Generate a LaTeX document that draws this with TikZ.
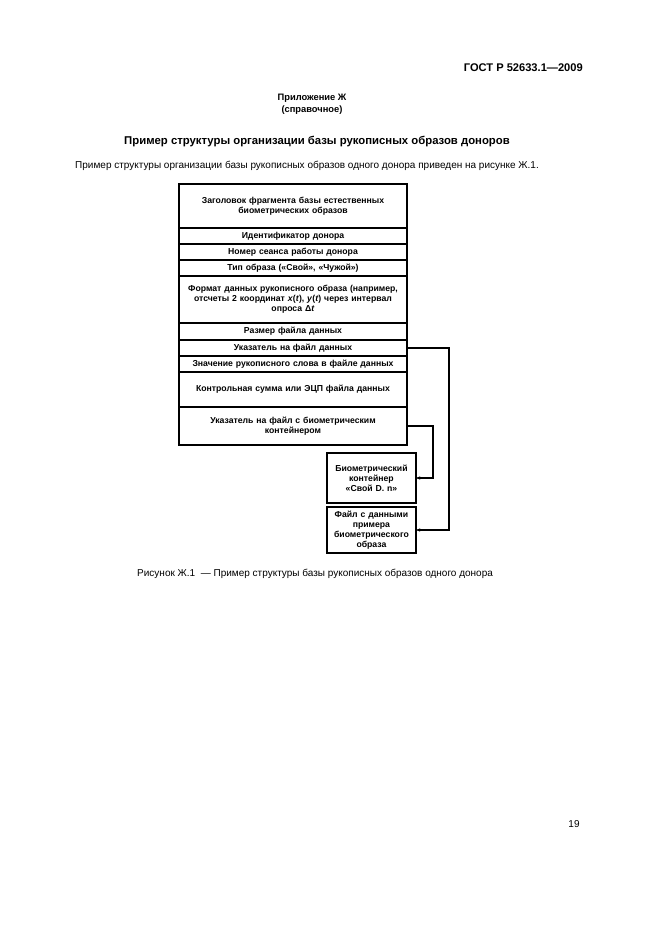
\documentclass[tikz,border=0pt]{standalone}
\usepackage{fontspec}
\setmainfont{Liberation Sans}
\usepackage{tikz}
\usetikzlibrary{positioning,arrows.meta}

\begin{document}
\begin{tikzpicture}[x = 0.9pt, y = -0.9pt,
        Row/.style = {rectangle, draw = black, line width = 1.1pt, outer sep = 0pt, minimum width = 205.2pt, text width = 200pt, align = center, inner sep = 1pt, font = \fontsize{7.8}{9}\selectfont\bfseries},
        Box/.style = {Row, minimum width = 80pt, text width = 78pt},
        Link/.style = {line width = 1.1pt, -{Stealth[length = 4pt, width = 3pt]}},
        Page/.style = {inner sep = 0pt, font = \fontsize{9}{11}\selectfont}]
    \useasboundingbox (0,0) rectangle (661,935);
    % page text
    \node [Page, anchor = east, font = \fontsize{10}{12}\selectfont\bfseries] (gost) at (583,68) {ГОСТ Р 52633.1—2009};
    \node [Page, font = \fontsize{8.4}{10.5}\selectfont\bfseries, align = center] (app) at (312,104) {Приложение Ж\\(справочное)};
    \node [Page, font = \fontsize{10.2}{12}\selectfont\bfseries] (title) at (317,142) {Пример структуры организации базы рукописных образов доноров};
    \node [Page, anchor = west] (intro) at (75,166) {Пример структуры организации базы рукописных образов одного донора приведен на рисунке Ж.1.};
    % record
    \node [Row, anchor = north west, minimum height = 39.6pt] (1) at (179,184) {Заголовок фрагмента базы естественных\\биометрических образов};
    \node [Row, below = 0pt of 1, minimum height = 14.4pt] (2) {Идентификатор донора};
    \node [Row, below = 0pt of 2, minimum height = 14.4pt] (3) {Номер сеанса работы донора};
    \node [Row, below = 0pt of 3, minimum height = 14.4pt] (4) {Тип образа («Свой», «Чужой»)};
    \node [Row, below = 0pt of 4, minimum height = 42.3pt] (5) {Формат данных рукописного образа (например,\\отсчеты 2 координат \textit{x}(\textit{t}), \textit{y}(\textit{t}) через интервал\\опроса Δ\textit{t}};
    \node [Row, below = 0pt of 5, minimum height = 15.3pt] (6) {Размер файла данных};
    \node [Row, below = 0pt of 6, minimum height = 14.4pt] (7) {Указатель на файл данных};
    \node [Row, below = 0pt of 7, minimum height = 14.4pt] (8) {Значение рукописного слова в файле данных};
    \node [Row, below = 0pt of 8, minimum height = 31.5pt] (9) {Контрольная сумма или ЭЦП файла данных};
    \node [Row, below = 0pt of 9, minimum height = 34.2pt] (10) {Указатель на файл с биометрическим\\контейнером};
    % files
    \node [Box, anchor = north west, minimum height = 45pt] (11) at (327,453) {Биометрический\\контейнер\\«Свой D. n»};
    \node [Box, anchor = north west, minimum height = 41.4pt] (12) at (327,507) {Файл с данными\\примера\\биометрического\\образа};
    \coordinate (c1) at (449,0);
    \coordinate (c2) at (433,0);
    \draw [Link] (7.east) -- (7.east -| c1) |- (12.east);
    \draw [Link] (10.east) -- (10.east -| c2) |- (11.east);
    % caption
    \node [Page, anchor = west] (cap) at (137,574) {Рисунок Ж.1~~— Пример структуры базы рукописных образов одного донора};
    \node [Page, font = \fontsize{9}{11}\selectfont] (num) at (574,824) {19};
\end{tikzpicture}
\end{document}
